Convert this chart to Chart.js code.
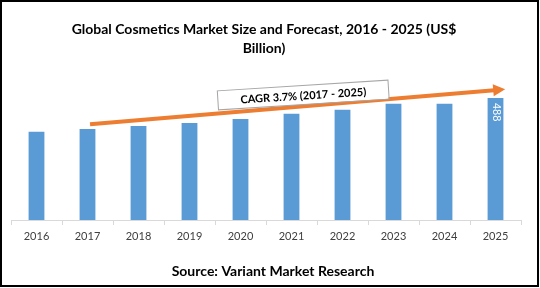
<!DOCTYPE html>
<html>
<head>
<meta charset="utf-8">
<script src="https://cdn.jsdelivr.net/npm/chart.js@4/dist/chart.umd.min.js"></script>
<style>
  html, body { margin: 0; padding: 0; background: #fff; }
  #wrap { width: 540px; height: 288px; }
</style>
</head>
<body>
<div id="wrap"><canvas id="grafico"></canvas></div>
<script>
// dados do grafico
const anos = ["2016", "2017", "2018", "2019", "2020", "2021", "2022", "2023", "2024", "2025"]
const valores = [353, 364, 376, 388, 404, 425, 441, 465, 465, 488]
const tituloLinhas = ["Global Cosmetics Market Size and Forecast, 2016 - 2025 (US$", "Billion)"]
const fonteTexto = "Source: Variant Market Research"
const cagrTexto = "CAGR 3.7% (2017 - 2025)"
// seta do CAGR em unidades do grafico (indice da categoria, valor)
const setaInicio = [1.05, 383]
const setaFim = [9.19, 523]
const caixaCentro = [5.23, 500]
const rotuloIndice = 9

const fonte = "Lato, 'Open Sans', sans-serif"

const pluginExtras = {
    id: 'extras',
    afterDatasetsDraw(chart) {
        const ctx = chart.ctx
        const x = chart.scales.x
        const y = chart.scales.y

        // rotulo 488 dentro da ultima barra
        const barra = chart.getDatasetMeta(0).data[rotuloIndice]
        ctx.save()
        ctx.translate(barra.x + 1, barra.y + 5)
        ctx.rotate(Math.PI / 2)
        ctx.fillStyle = '#ffffff'
        ctx.font = "11px 'Liberation Sans', sans-serif"
        ctx.textAlign = 'left'
        ctx.textBaseline = 'middle'
        ctx.fillText(String(valores[rotuloIndice]), 0, 0)
        ctx.restore()

        // seta laranja
        const x1 = x.getPixelForValue(setaInicio[0]), y1 = y.getPixelForValue(setaInicio[1])
        const x2 = x.getPixelForValue(setaFim[0]), y2 = y.getPixelForValue(setaFim[1])
        const ang = Math.atan2(y2 - y1, x2 - x1)
        const cab = 11
        ctx.save()
        ctx.strokeStyle = '#ED7D31'
        ctx.fillStyle = '#ED7D31'
        ctx.lineWidth = 4
        ctx.beginPath()
        ctx.moveTo(x1, y1)
        ctx.lineTo(x2 - cab * Math.cos(ang), y2 - cab * Math.sin(ang))
        ctx.stroke()
        ctx.translate(x2, y2)
        ctx.rotate(ang)
        ctx.beginPath()
        ctx.moveTo(0, 0)
        ctx.lineTo(-cab - 1, -6)
        ctx.lineTo(-cab - 1, 6)
        ctx.closePath()
        ctx.fill()
        ctx.restore()

        // caixa do CAGR
        const cx = x.getPixelForValue(caixaCentro[0]), cy = y.getPixelForValue(caixaCentro[1])
        ctx.save()
        ctx.translate(cx, cy)
        ctx.rotate(-3.6 * Math.PI / 180)
        ctx.fillStyle = '#ffffff'
        ctx.fillRect(-85, -9, 170, 18)
        ctx.strokeStyle = '#a6a6a6'
        ctx.lineWidth = 1
        ctx.strokeRect(-85.5, -9.5, 171, 19)
        ctx.fillStyle = '#000000'
        ctx.font = "bold 11px " + fonte
        ctx.textAlign = 'center'
        ctx.textBaseline = 'middle'
        ctx.fillText(cagrTexto, 0, 1)
        ctx.restore()
    },
    afterDraw(chart) {
        const ctx = chart.ctx
        ctx.save()
        ctx.fillStyle = '#000000'
        ctx.textAlign = 'center'
        ctx.textBaseline = 'middle'
        ctx.font = "bold 14px " + fonte
        ctx.fillText(tituloLinhas[0], 264, 29)
        ctx.fillText(tituloLinhas[1], 264, 48)
        ctx.fillText(fonteTexto, 273, 271)
        // moldura
        ctx.strokeStyle = '#000000'
        ctx.lineWidth = 2
        ctx.strokeRect(1, 1, 537, 285)
        ctx.restore()
    }
}

let graficoCosmeticos = new Chart(
    document.getElementById("grafico"),
    {
        type: "bar",
        data: {
            labels: anos,
            datasets: [{
                label: "",
                data: valores,
                backgroundColor: "#5B9BD5",
                categoryPercentage: 1,
                barPercentage: 0.31,
            }]
        },
        options: {
            responsive: true,
            maintainAspectRatio: false,
            animation: false,
            layout: {
                padding: { top: 80, left: 11, right: 19, bottom: 0 }
            },
            scales: {
                x: {
                    afterFit: s => { s.height = 68 },
                    grid: {
                        offset: true,
                        drawOnChartArea: false,
                        tickLength: 5,
                        color: '#d9d9d9'
                    },
                    border: { color: '#d9d9d9' },
                    ticks: {
                        color: '#404040',
                        padding: 5,
                        font: { family: fonte, size: 11 }
                    }
                },
                y: {
                    display: false,
                    min: 0,
                    max: 560
                }
            },
            plugins: {
                legend: { display: false },
                tooltip: { enabled: false }
            }
        },
        plugins: [pluginExtras]
    }
)
</script>
</body>
</html>
